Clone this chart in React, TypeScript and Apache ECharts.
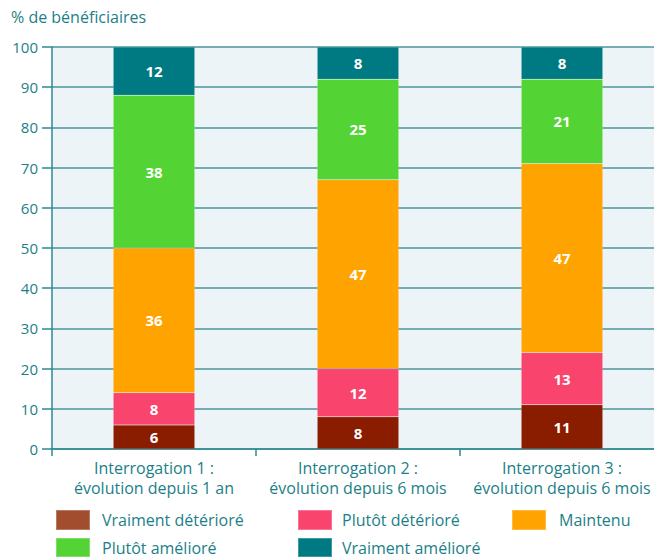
import React, { useEffect, useRef } from "react";
import * as echarts from "echarts";

const categories = [
  "Interrogation 1 :\névolution depuis 1 an",
  "Interrogation 2 :\névolution depuis 6 mois",
  "Interrogation 3 :\névolution depuis 6 mois",
];
const seriesNames = [
  "Vraiment détérioré",
  "Plutôt détérioré",
  "Maintenu",
  "Plutôt amélioré",
  "Vraiment amélioré",
];
const vraimentDeteriore = [6, 8, 11];
const plutotDeteriore = [8, 12, 13];
const maintenu = [36, 47, 47];
const plutotAmeliore = [38, 25, 21];
const vraimentAmeliore = [12, 8, 8];
const yTicks = [0, 10, 20, 30, 40, 50, 60, 70, 80, 90, 100];

const barColors = ["#8A1C00", "#F9446E", "#FFA300", "#54D334", "#007A82"];
const legendColors = ["#A24D2E", "#F9446E", "#FFA300", "#54D334", "#007A82"];
const TEAL = "#1B7F88";
const FONT = "Open Sans";

export default function App() {
  const ref = useRef<HTMLDivElement>(null);
  useEffect(() => {
    const chart = echarts.init(ref.current!, undefined, { renderer: "svg" });
    const values = [vraimentDeteriore, plutotDeteriore, maintenu, plutotAmeliore, vraimentAmeliore];
    const legendPos = [
      { left: 55, top: 509, gap: 7, h: 20 },
      { left: 297, top: 509, gap: 5, h: 20 },
      { left: 511, top: 509, gap: 8, h: 20 },
      { left: 55, top: 537, gap: 7, h: 19 },
      { left: 297, top: 537, gap: 5, h: 19 },
    ];
    chart.setOption({
      animation: false,
      title: {
        text: "% de bénéficiaires",
        left: 11,
        top: 9,
        padding: 0,
        textStyle: { color: TEAL, fontSize: 16, fontWeight: "normal", fontFamily: FONT },
      },
      legend: seriesNames.map((n, i) => ({
        data: [{ name: n, itemStyle: { color: legendColors[i] } }],
        left: legendPos[i].left,
        top: legendPos[i].top,
        itemWidth: 34,
        itemHeight: legendPos[i].h,
        itemGap: 0,
        padding: 0,
        icon: "rect",
        selectedMode: false,
        textStyle: {
          color: TEAL,
          fontSize: 16,
          lineHeight: 18,
          fontFamily: FONT,
          padding: [0, 0, 0, legendPos[i].gap],
        },
      })),
      grid: {
        left: 52,
        top: 47,
        width: 612,
        height: 402,
        show: true,
        backgroundColor: "#ECF4F8",
        borderWidth: 0,
        outerBoundsMode: "none",
        containLabel: false,
      },
      xAxis: {
        type: "category",
        data: categories,
        axisLine: { show: true, lineStyle: { color: "#2C8A92", width: 1.5 } },
        axisTick: { show: true, length: 7, lineStyle: { color: "#2C8A92", width: 1.5 } },
        axisLabel: {
          color: TEAL,
          fontSize: 16,
          fontFamily: FONT,
          lineHeight: 20,
          margin: 9,
          interval: 0,
        },
      },
      yAxis: {
        type: "value",
        min: 0,
        max: 100,
        interval: 10,
        axisLine: { show: true, lineStyle: { color: "#2C8A92", width: 1.5 } },
        axisTick: { show: true, length: 10, lineStyle: { color: "#2C8A92", width: 1.5 } },
        axisLabel: {
          color: TEAL,
          fontSize: 15,
          fontFamily: FONT,
          margin: 14,
          formatter: (v: number) => (yTicks.includes(v) ? String(v) : ""),
        },
        splitLine: { show: true, lineStyle: { color: "#4E959B", width: 1.5 } },
      },
      series: seriesNames.map((n, i) => ({
        name: n,
        type: "bar",
        stack: "total",
        data: values[i],
        barWidth: "40%",
        itemStyle: { color: barColors[i], borderColor: "rgba(255,255,255,0.25)", borderWidth: 0.5 },
        label: {
          show: true,
          position: "inside",
          color: "#ffffff",
          fontSize: 15,
          fontWeight: "bold",
          fontFamily: FONT,
        },
      })),
    });
    return () => chart.dispose();
  }, []);
  return (
    <div
      ref={ref}
      style={{ position: "absolute", left: 0, top: 0, width: 654, height: 558 }}
    />
  );
}
